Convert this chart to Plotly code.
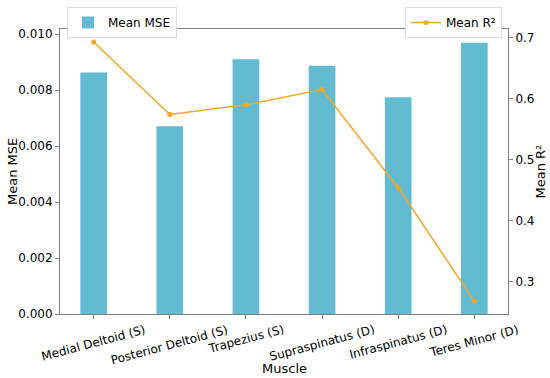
import plotly.graph_objects as go

muscles = ["Medial Deltoid (S)", "Posterior Deltoid (S)", "Trapezius (S)",
           "Supraspinatus (D)", "Infraspinatus (D)", "Teres Minor (D)"]
mean_mse = [0.00863, 0.00671, 0.00910, 0.00887, 0.00775, 0.00969]
mean_r2 = [0.693, 0.574, 0.590, 0.615, 0.454, 0.268]
mse_ticks = [0.000, 0.002, 0.004, 0.006, 0.008, 0.010]
mse_ticklabels = ["0.000", "0.002", "0.004", "0.006", "0.008", "0.010"]
r2_ticks = [0.3, 0.4, 0.5, 0.6, 0.7]

FONT = "DejaVu Sans"
AX = "#808080"
W, H = 550, 378
L, R, T, B = 60, 508, 29, 314
PW = R - L

fig = go.Figure()
fig.add_trace(go.Bar(
    x=muscles, y=mean_mse, name="Mean MSE", width=0.35,
    marker=dict(color="#62bbd0", line=dict(width=0)),
    legend="legend",
))
fig.add_trace(go.Scatter(
    x=muscles, y=mean_r2, name="Mean R²", yaxis="y2",
    mode="lines+markers",
    line=dict(color="#f5a623", width=1.5),
    marker=dict(color="#f5a623", size=5),
    legend="legend2",
))

# centred, rotated category labels (matplotlib-style)
for m in muscles:
    fig.add_annotation(
        x=m, xref="x", y=0, yref="paper", yanchor="top", yshift=-6,
        text=m, showarrow=False, textangle=-15,
        font=dict(family=FONT, size=12, color="black"),
    )
# axis titles
fig.add_annotation(
    text="Muscle", x=0.5, xref="paper", y=-0.1895, yref="paper",
    yanchor="middle", showarrow=False,
    font=dict(family=FONT, size=13, color="black"),
)
fig.add_annotation(
    text="Mean MSE", x=(12.5 - L) / PW, xref="paper", y=0.5, yref="paper",
    xanchor="center", yanchor="middle", textangle=-90, showarrow=False,
    borderpad=0, font=dict(family=FONT, size=13, color="black"),
)
fig.add_annotation(
    text="Mean R²", x=(540 - L) / PW, xref="paper", y=0.5, yref="paper",
    xanchor="center", yanchor="middle", textangle=-90, showarrow=False,
    borderpad=0, font=dict(family=FONT, size=13, color="black"),
)

fig.update_layout(
    width=W, height=H,
    margin=dict(l=L, r=W - R, t=T, b=H - B, autoexpand=False),
    paper_bgcolor="white", plot_bgcolor="white",
    font=dict(family=FONT, size=12, color="black"),
    xaxis=dict(
        type="category", range=[-0.4425, 5.4425], automargin=False,
        showline=True, linecolor=AX, linewidth=1, mirror=True,
        ticks="outside", ticklen=4, tickcolor=AX,
        showticklabels=False,
        showgrid=False,
    ),
    yaxis=dict(
        range=[0, 0.010185], tickvals=mse_ticks, ticktext=mse_ticklabels,
        automargin=False,
        showline=True, linecolor=AX, linewidth=1,
        ticks="outside", ticklen=4, tickcolor=AX,
        showgrid=False, zeroline=False,
    ),
    yaxis2=dict(
        overlaying="y", side="right", automargin=False,
        range=[0.2468, 0.7143], tickvals=r2_ticks,
        showline=True, linecolor=AX, linewidth=1,
        ticks="outside", ticklen=4, tickcolor=AX,
        showgrid=False, zeroline=False,
    ),
    legend=dict(
        xref="container", yref="container",
        x=67 / W, y=1 - 7 / H, xanchor="left", yanchor="top",
        bgcolor="white", bordercolor="#dddddd", borderwidth=1,
        font=dict(size=12), itemwidth=30,
    ),
    legend2=dict(
        xref="container", yref="container",
        x=502 / W, y=1 - 7 / H, xanchor="right", yanchor="top",
        bgcolor="white", bordercolor="#dddddd", borderwidth=1,
        font=dict(size=12), itemwidth=30,
    ),
    showlegend=True,
)

fig.write_html("out.html",
               config={"displayModeBar": False},
               post_script="document.body.style.margin='0';"
                           "document.body.style.overflow='hidden';")
